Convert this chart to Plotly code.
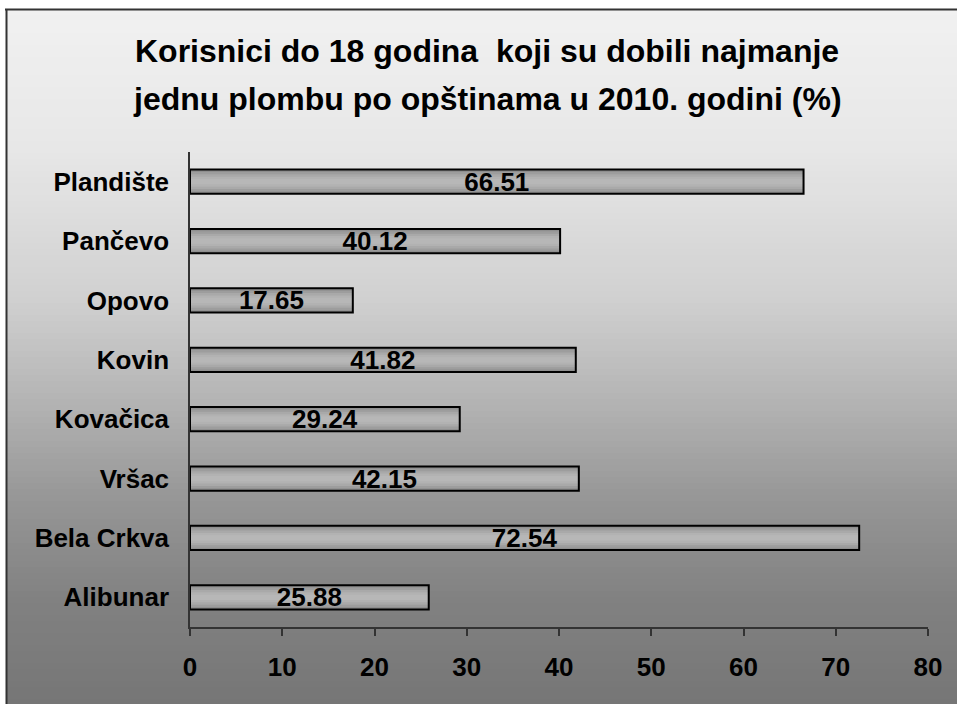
import plotly.graph_objects as go

municipalities = ["Plandište", "Pančevo", "Opovo", "Kovin", "Kovačica",
                  "Vršac", "Bela Crkva", "Alibunar"]
percent = [66.51, 40.12, 17.65, 41.82, 29.24, 42.15, 72.54, 25.88]
x_ticks = [0, 10, 20, 30, 40, 50, 60, 70, 80]
title_lines = ["Korisnici do 18 godina  koji su dobili najmanje",
               "jednu plombu po opštinama u 2010. godini (%)"]

W, H = 957, 704
L, R, T, B = 190, 29, 152, 77
PW, PH = W - L - R, H - T - B
FONT = "Arial, Liberation Sans, sans-serif"


def px(x):
    return (x - L) / PW


def py(y):
    return (H - B - y) / PH


fig = go.Figure()

# bar body as layers so it looks shaded like the original
layers = [(0.41, "#8f8f8f"), (0.33, "#9d9d9d"), (0.25, "#a9a9a9"),
          (0.17, "#b2b2b2"), (0.09, "#b7b7b7")]
for w, c in layers:
    fig.add_trace(go.Bar(
        x=percent, y=municipalities, orientation="h", width=w,
        marker=dict(color=c, line=dict(width=0)),
        hoverinfo="skip", showlegend=False,
    ))

fig.add_trace(go.Bar(
    x=percent, y=municipalities, orientation="h", width=0.41,
    marker=dict(color="rgba(0,0,0,0)", line=dict(color="black", width=2)),
    text=[f"{v:.2f}" for v in percent],
    textposition="inside", insidetextanchor="middle",
    textfont=dict(family=FONT, size=26, color="black", weight="bold"),
    showlegend=False,
))

# background gradient
stops = [(9, 241), (150, 231), (300, 208), (400, 180), (500, 150),
         (600, 129), (704, 118)]
shapes = []
step = 6
y = 9
while y < H:
    yc = y + step / 2
    for (y0, c0), (y1, c1) in zip(stops, stops[1:]):
        if y0 <= yc <= y1:
            g = int(round(c0 + (c1 - c0) * (yc - y0) / (y1 - y0)))
            break
    else:
        g = stops[-1][1]
    shapes.append(dict(type="rect", xref="paper", yref="paper",
                       x0=px(6), x1=px(W + 5), y0=py(min(y + step + 1, H + 5)), y1=py(y),
                       fillcolor=f"rgb({g},{g},{g})", line=dict(width=0),
                       layer="below"))
    y += step

# outer border (top and left edges visible)
shapes.append(dict(type="line", xref="paper", yref="paper",
                   x0=px(5), x1=px(W + 5), y0=py(9.5), y1=py(9.5),
                   line=dict(color="#333333", width=2)))
shapes.append(dict(type="line", xref="paper", yref="paper",
                   x0=px(6.5), x1=px(6.5), y0=py(9), y1=py(H + 5),
                   line=dict(color="#333333", width=2)))

annotations = [
    dict(text=f"<b>{title_lines[0]}</b>", xref="paper", yref="paper",
         x=px(487), y=py(51), xanchor="center", yanchor="middle",
         showarrow=False, font=dict(family=FONT, size=32, color="black")),
    dict(text=f"<b>{title_lines[1]}</b>", xref="paper", yref="paper",
         x=px(487), y=py(99), xanchor="center", yanchor="middle",
         showarrow=False, font=dict(family=FONT, size=32, color="black")),
]

fig.update_layout(
    width=W, height=H,
    margin=dict(l=L, r=R, t=T, b=B),
    barmode="overlay",
    paper_bgcolor="white",
    plot_bgcolor="rgba(0,0,0,0)",
    uniformtext=dict(minsize=26, mode="show"),
    shapes=shapes,
    annotations=annotations,
)

fig.update_xaxes(
    range=[0, 80], tickvals=x_ticks, showgrid=False, zeroline=False,
    showline=True, linecolor="#333333", linewidth=1.5,
    ticks="outside", ticklen=7, tickcolor="#333333", tickwidth=1.5,
    ticklabelstandoff=9,
    tickfont=dict(family=FONT, size=26, color="black", weight="bold"),
)
fig.update_yaxes(
    categoryorder="array", categoryarray=municipalities[::-1],
    showgrid=False, zeroline=False,
    showline=True, linecolor="#333333", linewidth=1.5,
    ticks="", ticklabelstandoff=14,
    tickfont=dict(family=FONT, size=26, color="black", weight="bold"),
)

# the page body has a default 8px margin; drop it so the figure sits at 0,0
fig.write_html("out.html", config={"displayModeBar": False},
               post_script="document.body.style.margin='0';")
